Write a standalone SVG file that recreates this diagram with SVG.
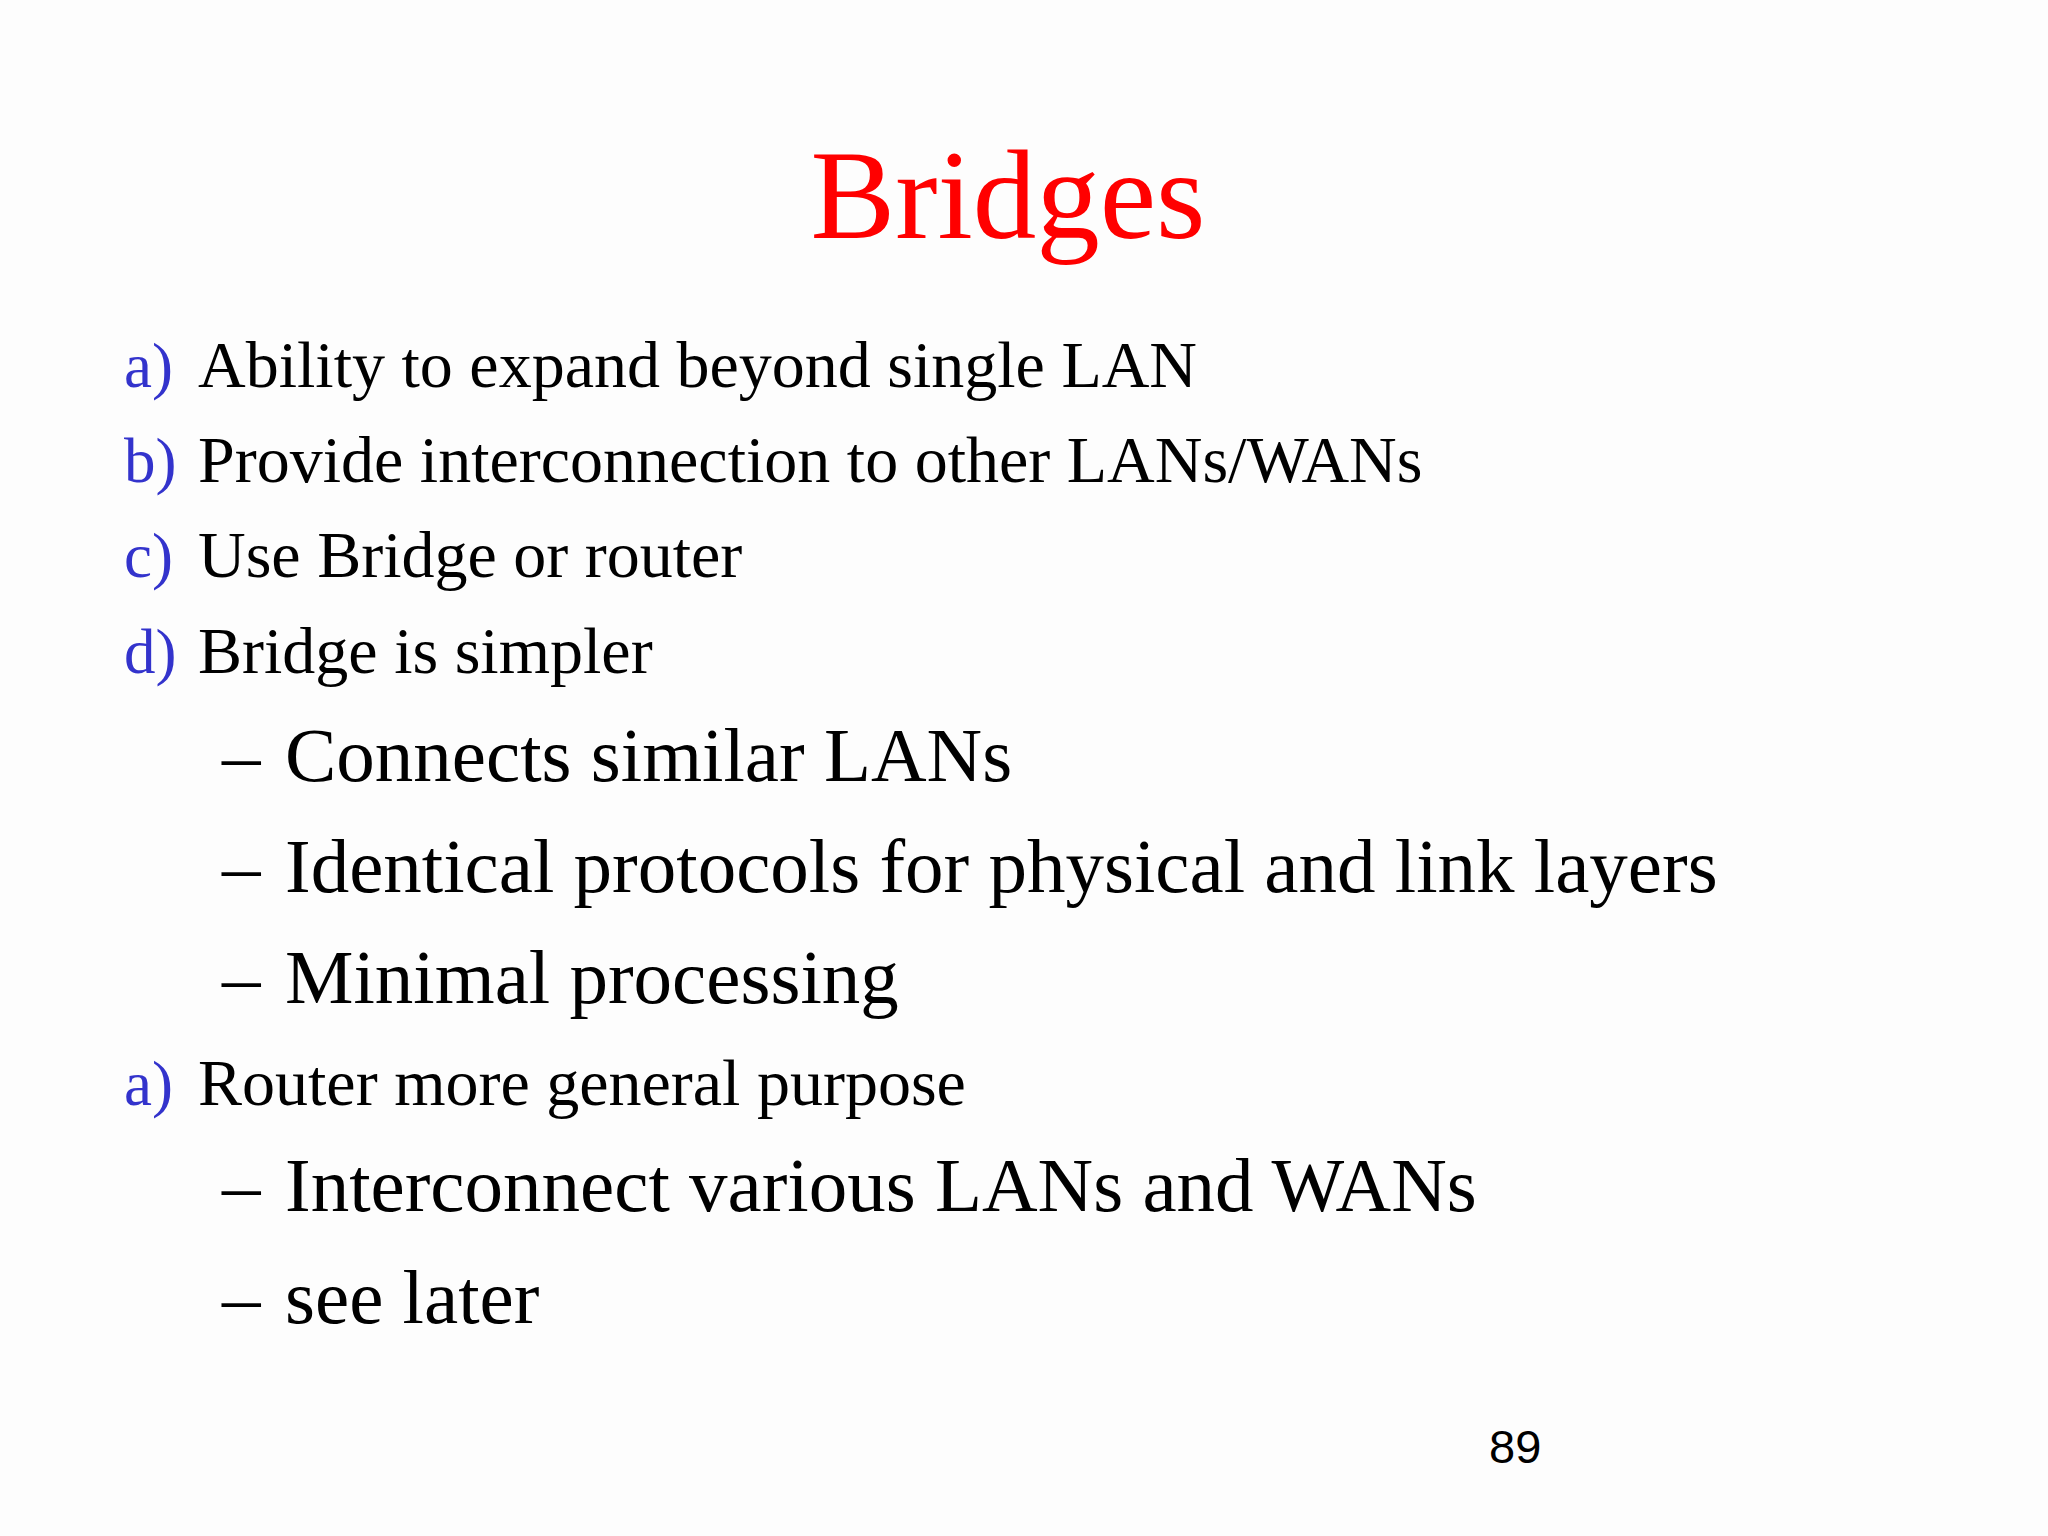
<svg xmlns="http://www.w3.org/2000/svg" width="2048" height="1536" viewBox="0 0 2048 1536">
<style>
.t{font-family:"Liberation Serif","Times New Roman",serif;fill:#000}
.l{font-family:"Liberation Serif","Times New Roman",serif;fill:#3333CC;font-size:63px}
.m{font-size:66px}
.s{font-size:77px}
</style>
<rect width="2048" height="1536" fill="#fdfdfd"/>
<text x="1008" y="238" text-anchor="middle" class="t" style="fill:#FF0000;font-size:127px">Bridges</text>
<g id="i1"><text x="124" y="387" class="l">a)</text><text x="198" y="387" class="t m">Ability to expand beyond single LAN</text></g>
<g id="i2"><text x="124" y="482" class="l">b)</text><text x="198" y="482" class="t m">Provide interconnection to other LANs/WANs</text></g>
<g id="i3"><text x="124" y="577" class="l">c)</text><text x="198" y="577" class="t m">Use Bridge or router</text></g>
<g id="i4"><text x="124" y="673" class="l">d)</text><text x="198" y="673" class="t m">Bridge is simpler</text></g>
<g id="s1"><text x="222" y="781" class="t s">–</text><text x="285" y="781" class="t s">Connects similar LANs</text></g>
<g id="s2"><text x="222" y="892" class="t s">–</text><text x="285" y="892" class="t s">Identical protocols for physical and link layers</text></g>
<g id="s3"><text x="222" y="1003" class="t s">–</text><text x="285" y="1003" class="t s">Minimal processing</text></g>
<g id="i5"><text x="124" y="1105" class="l">a)</text><text x="198" y="1105" class="t m">Router more general purpose</text></g>
<g id="s4"><text x="222" y="1211" class="t s">–</text><text x="285" y="1211" class="t s">Interconnect various LANs and WANs</text></g>
<g id="s5"><text x="222" y="1323" class="t s">–</text><text x="285" y="1323" class="t s">see later</text></g>
<text x="1489" y="1463" style="font-family:'Liberation Sans',Arial,sans-serif;font-size:47px;fill:#000">89</text>
</svg>
